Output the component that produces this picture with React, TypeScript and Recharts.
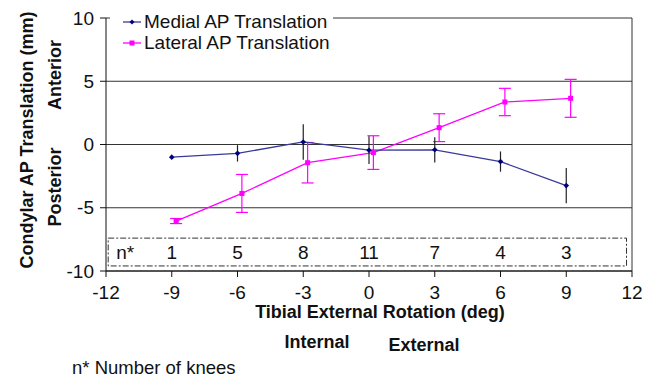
import {
  CartesianGrid,
  ComposedChart,
  ErrorBar,
  Line,
  ReferenceArea,
  ReferenceLine,
  Scatter,
  XAxis,
  YAxis,
} from "recharts";

// Condylar AP translation vs tibial rotation, medial and lateral compartments.

const angles = [-9, -6, -3, 0, 3, 6, 9];
// lateral series is plotted slightly offset so the error bars don't overlap
const lateralAngles = [-8.8, -5.8, -2.8, 0.2, 3.2, 6.2, 9.2];
const medialMean = [-1.0, -0.7, 0.2, -0.45, -0.42, -1.35, -3.25];
const medialSd = [0, 0.65, 1.4, 1.1, 1.0, 0.8, 1.4];
const lateralMean = [-6.05, -3.87, -1.44, -0.64, 1.33, 3.36, 3.65];
const lateralSd = [0.2, 1.5, 1.6, 1.33, 1.1, 1.08, 1.5];
const kneeCounts = [1, 5, 8, 11, 7, 4, 3];
const xTicks = [-12, -9, -6, -3, 0, 3, 6, 9, 12];
const yTicks = [-10, -5, 0, 5, 10];

const FONT = "'Liberation Sans', Arial, Helvetica, sans-serif";
const MEDIAL = "#000080";
const MEDIAL_LINE = "#3a3a9a";
const LATERAL = "#ff00ff";
const GRID = "#333";
const N_ROW_Y = -8.5;

const medialData = angles.map((x, i) => ({ x, y: medialMean[i], err: medialSd[i] }));
const lateralData = lateralAngles.map((x, i) => ({ x, y: lateralMean[i], err: lateralSd[i] }));
const countData = angles.map((x, i) => ({ x, y: N_ROW_Y, n: kneeCounts[i] }));

const tickStyle = { fontSize: 19, fill: "#111", fontFamily: FONT };

function SquareDot(props: any) {
  const { cx, cy } = props;
  if (cx == null || cy == null) return null;
  return <rect x={cx - 2.5} y={cy - 2.5} width={5} height={5} fill={LATERAL} />;
}

function DiamondDot(props: any) {
  const { cx, cy } = props;
  if (cx == null || cy == null) return null;
  return (
    <path
      d={`M${cx},${cy - 2.8}L${cx + 2.8},${cy}L${cx},${cy + 2.8}L${cx - 2.8},${cy}Z`}
      fill={MEDIAL}
    />
  );
}

function CountLabel(props: any) {
  const { cx, cy, payload } = props;
  return (
    <text x={cx} y={cy} dy="0.35em" textAnchor="middle" fontSize={19} fill="#111" fontFamily={FONT}>
      {payload.n}
    </text>
  );
}

export default function App() {
  return (
    <div style={{ position: "absolute", left: 0, top: 0, width: 664, height: 378, background: "#fff", fontFamily: FONT }}>
      <ComposedChart width={664} height={378} margin={{ top: 18, right: 32, left: 0, bottom: 0 }}>
        <CartesianGrid vertical={false} stroke={GRID} horizontalValues={yTicks} />
        <XAxis
          type="number"
          dataKey="x"
          domain={[-12, 12]}
          ticks={xTicks}
          height={107}
          tick={tickStyle}
          tickSize={6}
          tickMargin={9}
          stroke="#111"
          allowDataOverflow
        />
        <YAxis
          type="number"
          dataKey="y"
          domain={[-10, 10]}
          ticks={yTicks}
          width={106}
          tick={tickStyle}
          tickSize={6}
          tickMargin={6}
          stroke="#111"
          allowDataOverflow
        />
        <ReferenceLine x={12} stroke={GRID} />
        <ReferenceArea
          x1={-11.9}
          x2={11.75}
          y1={-9.6}
          y2={-7.4}
          fill="none"
          fillOpacity={0}
          stroke={GRID}
          strokeDasharray="6 2 2 2"
          label={{ value: "n*", position: "insideLeft", offset: 8, fontSize: 19, fill: "#111", fontFamily: FONT }}
        />
        <Scatter data={countData} dataKey="y" shape={CountLabel} isAnimationActive={false} />
        <Line
          data={lateralData}
          dataKey="y"
          stroke={LATERAL}
          strokeWidth={1.3}
          dot={SquareDot}
          activeDot={false}
          isAnimationActive={false}
        >
          <ErrorBar dataKey="err" direction="y" width={6} stroke={LATERAL} strokeWidth={1.2} />
        </Line>
        <Line
          data={medialData}
          dataKey="y"
          stroke={MEDIAL_LINE}
          strokeWidth={1.3}
          dot={DiamondDot}
          activeDot={false}
          isAnimationActive={false}
        >
          <ErrorBar dataKey="err" direction="y" width={0} stroke="#222" strokeWidth={1.2} />
        </Line>
      </ComposedChart>

      {/* legend box sits over the top frame line */}
      <div style={{ position: "absolute", left: 110, top: 8, width: 223, height: 48, background: "#fff" }}>
        {[
          { name: "Medial AP Translation", color: MEDIAL_LINE, marker: "diamond" },
          { name: "Lateral AP Translation", color: LATERAL, marker: "square" },
        ].map((item, i) => (
          <div key={item.name} style={{ position: "absolute", left: 12, top: 3 + i * 21, height: 22, display: "flex", alignItems: "center" }}>
            <svg width={20} height={10} style={{ marginRight: 2 }}>
              <line x1={1} y1={5} x2={19} y2={5} stroke={item.color} strokeWidth={1.3} />
              {item.marker === "diamond" ? (
                <path d="M10,2.5L12.5,5L10,7.5L7.5,5Z" fill={MEDIAL} />
              ) : (
                <rect x={7.5} y={2.5} width={5} height={5} fill={LATERAL} />
              )}
            </svg>
            <span style={{ fontSize: 19, color: "#111", whiteSpace: "nowrap" }}>{item.name}</span>
          </div>
        ))}
      </div>

      <svg width={664} height={378} style={{ position: "absolute", left: 0, top: 0, pointerEvents: "none" }}>
        <g fontFamily={FONT} fontWeight="bold" fontSize={18} fill="#111" textAnchor="middle">
          <text transform="translate(27,140) rotate(-90)" dy="0.35em">Condylar AP Translation (mm)</text>
          <text transform="translate(55,75) rotate(-90)" dy="0.35em">Anterior</text>
          <text transform="translate(55,187) rotate(-90)" dy="0.35em">Posterior</text>
          <text x={380} y={312} dy="0.35em">Tibial External Rotation (deg)</text>
          <text x={317} y={342} dy="0.35em">Internal</text>
          <text x={424} y={345} dy="0.35em">External</text>
        </g>
        <text x={72} y={368} dy="0.35em" fontFamily={FONT} fontSize={18.5} fill="#111">n* Number of knees</text>
      </svg>
    </div>
  );
}
